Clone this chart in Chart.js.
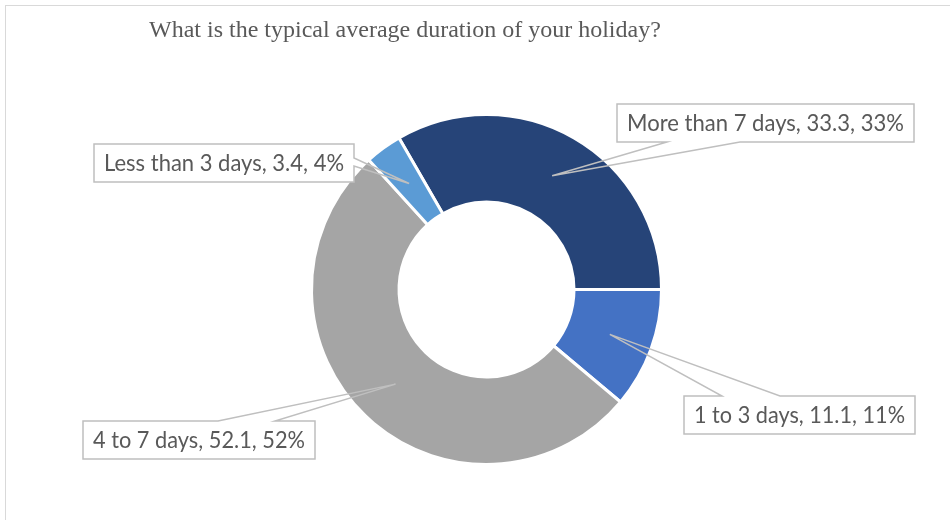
<!DOCTYPE html>
<html>
<head>
<meta charset="utf-8">
<script src="https://cdn.jsdelivr.net/npm/chart.js@4.4.0/dist/chart.umd.min.js"></script>
<style>
  html, body { margin: 0; padding: 0; background: #fff; }
  canvas { display: block; }
</style>
</head>
<body>
<canvas id="holidayChart" width="950" height="520"></canvas>
<script>
const CHART_TITLE = 'What is the typical average duration of your holiday?';
const categories = ['More than 7 days', '1 to 3 days', '4 to 7 days', 'Less than 3 days'];
const values = [33.3, 11.1, 52.1, 3.4];
const percentLabels = ['33%', '11%', '52%', '4%'];
const sliceColors = ['#264478', '#4472C4', '#A5A5A5', '#5B9BD5'];

// callout boxes: top-left corner, size, the edge carrying the pointer and where its base sits on that edge
const callouts = [
  { x: 617, y: 104, w: 297, h: 38, edge: 'bottom', from: 50, to: 123 },
  { x: 684, y: 396, w: 231, h: 38, edge: 'top', from: 38, to: 96 },
  { x: 83, y: 421, w: 232, h: 38, edge: 'top', from: 135, to: 192 },
  { x: 94, y: 144, w: 260, h: 38, edge: 'right', from: 14, to: 22 }
];

const TEXT_GREY = '#595959';
const LINE_GREY = '#BFBFBF';

// outline of a box with its pointer, walked clockwise
const calloutPath = (ctx, c, tip) => {
  const { x, y, w, h } = c;
  ctx.beginPath();
  ctx.moveTo(x, y);
  if (c.edge === 'top') {
    ctx.lineTo(x + c.from, y);
    ctx.lineTo(tip.x, tip.y);
    ctx.lineTo(x + c.to, y);
  }
  ctx.lineTo(x + w, y);
  if (c.edge === 'right') {
    ctx.lineTo(x + w, y + c.from);
    ctx.lineTo(tip.x, tip.y);
    ctx.lineTo(x + w, y + c.to);
  }
  ctx.lineTo(x + w, y + h);
  if (c.edge === 'bottom') {
    ctx.lineTo(x + c.to, y + h);
    ctx.lineTo(tip.x, tip.y);
    ctx.lineTo(x + c.from, y + h);
  }
  ctx.lineTo(x, y + h);
  ctx.closePath();
};

const decorations = {
  id: 'decorations',
  beforeDraw(chart) {
    const ctx = chart.ctx;
    ctx.save();
    ctx.strokeStyle = '#D9D9D9';
    ctx.lineWidth = 1;
    ctx.strokeRect(5.5, 5.5, 1000, 1000);

    ctx.fillStyle = TEXT_GREY;
    ctx.font = '24px "Liberation Serif", "Times New Roman", serif';
    ctx.textAlign = 'left';
    ctx.textBaseline = 'alphabetic';
    ctx.fillText(CHART_TITLE, 149, 37, 512);
    ctx.restore();
  },
  afterDraw(chart) {
    const ctx = chart.ctx;
    const arcs = chart.getDatasetMeta(0).data;
    ctx.save();
    callouts.forEach((c, i) => {
      const tip = arcs[i].getCenterPoint();
      ctx.fillStyle = '#fff';
      ctx.fillRect(c.x, c.y, c.w, c.h);
      calloutPath(ctx, c, tip);
      ctx.strokeStyle = LINE_GREY;
      ctx.lineWidth = 1.5;
      ctx.stroke();

      ctx.fillStyle = TEXT_GREY;
      ctx.font = '23px Lato, "Open Sans", sans-serif';
      ctx.textAlign = 'center';
      ctx.textBaseline = 'middle';
      const label = `${categories[i]}, ${values[i]}, ${percentLabels[i]}`;
      ctx.fillText(label, c.x + c.w / 2, c.y + c.h / 2 + 1, c.w - 20);
    });
    ctx.restore();
  }
};

const ctx = document.getElementById('holidayChart');

const myChart = new Chart(ctx, {
  type: 'doughnut',
  data: {
    labels: categories,
    datasets: [
      {
        data: values,
        backgroundColor: sliceColors,
        borderColor: '#ffffff',
        borderWidth: 3
      }
    ]
  },
  options: {
    responsive: false,
    devicePixelRatio: 1,
    animation: false,
    rotation: -30,
    cutout: '50%',
    layout: {
      padding: { left: 310, right: 287, top: 113, bottom: 54 }
    },
    plugins: {
      legend: { display: false },
      tooltip: { enabled: false }
    }
  },
  plugins: [decorations]
});
</script>
</body>
</html>
